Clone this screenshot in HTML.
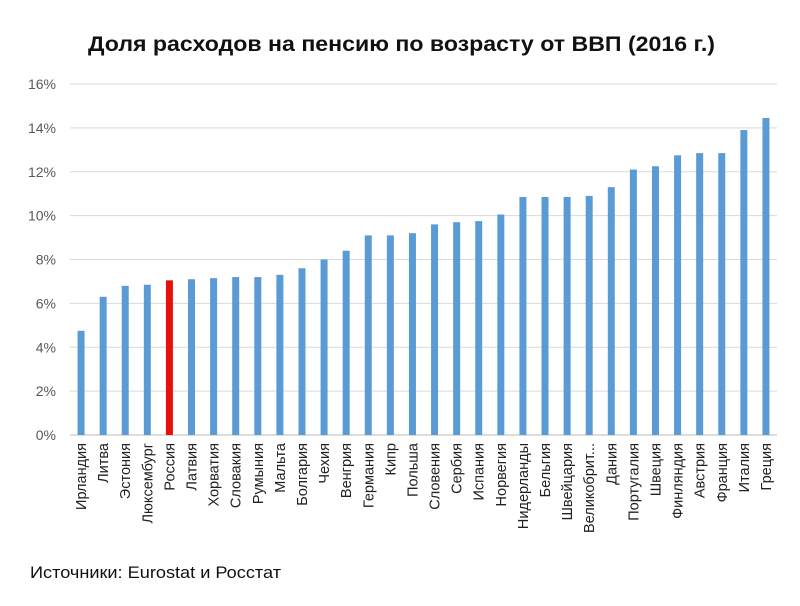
<!DOCTYPE html>
<html><head><meta charset="utf-8"><style>
body{margin:0;background:#fff;}
svg text{font-family:"Liberation Sans","DejaVu Sans",sans-serif;}
</style></head><body>
<svg id="c" width="800" height="601" viewBox="0 0 800 601" xmlns="http://www.w3.org/2000/svg">
<text x="88" y="51" textLength="627" lengthAdjust="spacingAndGlyphs" font-size="21" font-weight="bold" fill="#111">Доля расходов на пенсию по возрасту от ВВП (2016 г.)</text>
<g id="grid"></g><g id="bars"></g><g id="xl"></g>
<text x="30" y="578" textLength="251" lengthAdjust="spacingAndGlyphs" font-size="17" fill="#111">Источники: Eurostat и Росстат</text>
</svg>
<script>
const categories=["Ирландия","Литва","Эстония","Люксембург","Россия","Латвия","Хорватия","Словакия","Румыния","Мальта","Болгария","Чехия","Венгрия","Германия","Кипр","Польша","Словения","Сербия","Испания","Норвегия","Нидерланды","Бельгия","Швейцария","Великобрит...","Дания","Португалия","Швеция","Финляндия","Австрия","Франция","Италия","Греция"];
const values=[4.75,6.3,6.8,6.85,7.05,7.1,7.15,7.2,7.2,7.3,7.6,8.0,8.4,9.1,9.1,9.2,9.6,9.7,9.75,10.05,10.85,10.85,10.85,10.9,11.3,12.1,12.25,12.75,12.85,12.85,13.9,14.45];
const yTicks=[0,2,4,6,8,10,12,14,16];
const X0=70,X1=777,Y0=435,Y1=84,YMAX=16;
const NS="http://www.w3.org/2000/svg";
const y=v=>Y0-(v/YMAX)*(Y0-Y1);
const step=(X1-X0)/categories.length;
const x=i=>X0+step*(i+0.5);
function mk(t,a,p){const e=document.createElementNS(NS,t);for(const k in a)e.setAttribute(k,a[k]);p.appendChild(e);return e;}
const g=document.getElementById('grid'),b=document.getElementById('bars'),xl=document.getElementById('xl');
yTicks.forEach(t=>{
 const l=mk('line',{x1:X0,x2:X1,y1:y(t),y2:y(t),stroke:t===0?'#bbb':'#d9d9d9','stroke-width':1},g);
 
 
 const tx=mk('text',{x:56,y:y(t)+5,'text-anchor':'end','font-size':14,fill:'#595959'},g);
 tx.textContent=t+'%';
 
 
});
categories.forEach((c,i)=>{
 const r=mk('rect',{x:x(i)-3.5,y:y(values[i]),width:7,height:Y0-y(values[i]),fill:c==='Россия'?'#e8100f':'#5b9bd5'},b);
 
 
 const t=mk('text',{x:0,y:0,'text-anchor':'end','font-size':14.5,fill:'#222',transform:`translate(${x(i)+5},443) rotate(-90)`},xl);
 t.textContent=c;
 
 
});
</script>
</body></html>
